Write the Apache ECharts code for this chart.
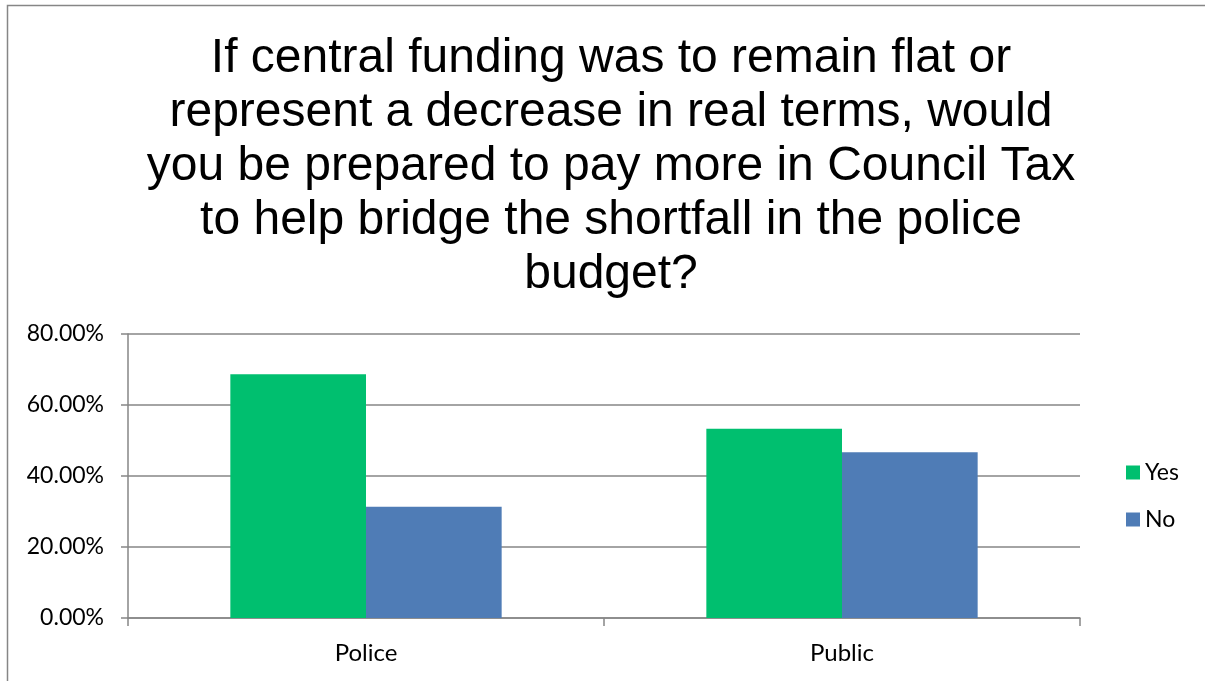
<!DOCTYPE html>
<html>
<head>
<meta charset="utf-8">
<style>
  html, body { margin: 0; padding: 0; background: #fff; }
  #chart { width: 1205px; height: 681px; }
</style>
<script src="https://cdn.jsdelivr.net/npm/echarts@6/dist/echarts.min.js"></script>
</head>
<body>
<div id="chart"></div>
<script>
// Survey answers, share of respondents
const categories = ['Police', 'Public'];
const yesValues = [68.65, 53.3];
const noValues = [31.35, 46.7];
const seriesNames = ['Yes', 'No'];
const titleLines = [
  'If central funding was to remain flat or',
  'represent a decrease in real terms, would',
  'you be prepared to pay more in Council Tax',
  'to help bridge the shortfall in the police',
  'budget?'
];

const axisGray = '#868686';
const labelFont = 'Lato, "Open Sans", sans-serif';

const chart = echarts.init(document.getElementById('chart'));
chart.setOption({
  animation: false,
  backgroundColor: '#ffffff',
  title: {
    text: titleLines.join('\n'),
    left: 606,
    top: 27,
    textAlign: 'center',
    textStyle: {
      fontFamily: '"Liberation Sans", Arial, sans-serif',
      fontSize: 48,
      fontWeight: 'normal',
      color: '#000',
      lineHeight: 54
    }
  },
  graphic: [{
    type: 'rect',
    shape: { x: 7.5, y: 5.5, width: 1300, height: 800 },
    style: { fill: 'none', stroke: axisGray, lineWidth: 1.5 },
    silent: true
  }],
  legend: {
    orient: 'vertical',
    left: 1121,
    top: 456,
    itemWidth: 14,
    itemHeight: 14,
    itemGap: 24,
    icon: 'rect',
    textStyle: { fontFamily: labelFont, fontSize: 23, color: '#000' },
    data: seriesNames
  },
  grid: { left: 128, right: 125, top: 334, bottom: 63 },
  xAxis: {
    type: 'category',
    data: categories,
    axisLine: { lineStyle: { color: axisGray, width: 1.5 } },
    axisTick: { show: true, length: 8, alignWithLabel: false, lineStyle: { color: axisGray, width: 1.5 } },
    axisLabel: { fontFamily: labelFont, fontSize: 24, color: '#000', margin: 23 }
  },
  yAxis: {
    type: 'value',
    min: 0,
    max: 80,
    interval: 20,
    axisLine: { show: true, lineStyle: { color: axisGray, width: 1.5 } },
    axisTick: { show: true, length: 7, lineStyle: { color: axisGray, width: 1.5 } },
    splitLine: { lineStyle: { color: axisGray, width: 1.5 } },
    axisLabel: {
      fontFamily: labelFont, fontSize: 23, color: '#000', margin: 24,
      formatter: v => v.toFixed(2) + '%'
    }
  },
  series: [
    {
      name: seriesNames[0], type: 'bar', data: yesValues,
      barGap: '0%', barCategoryGap: '43%',
      itemStyle: { color: '#00BF6F' }
    },
    {
      name: seriesNames[1], type: 'bar', data: noValues,
      barGap: '0%', barCategoryGap: '43%',
      itemStyle: { color: '#4F7CB6' }
    }
  ]
});
</script>
</body>
</html>
